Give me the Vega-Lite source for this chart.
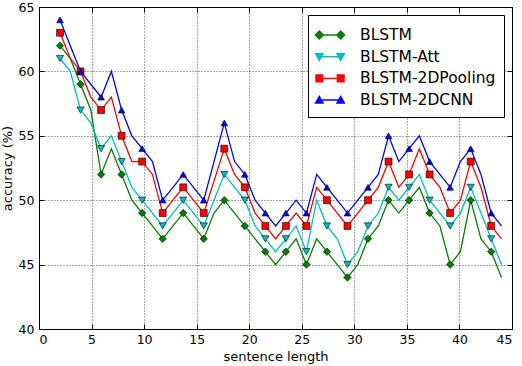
{
  "$schema": "https://vega.github.io/schema/vega-lite/v6.json",
  "width": 473,
  "height": 322,
  "autosize": {"type": "none"},
  "padding": {"left": 39, "top": 7, "right": 10, "bottom": 37},
  "background": "white",
  "config": {
    "font": "DejaVu Sans",
    "view": {"stroke": "black", "strokeWidth": 1},
    "axis": {
      "domain": false,
      "tickColor": "black",
      "tickSize": -5,
      "tickWidth": 1,
      "labelColor": "black",
      "labelFontSize": 12.5,
      "titleColor": "black",
      "titleFontSize": 13,
      "titleFontWeight": "normal",
      "gridColor": "black",
      "gridOpacity": 1,
      "gridWidth": 0.7,
      "gridDash": [1, 2]
    }
  },
  "data": {
    "values": [
      {"i": 0, "len": 2, "BLSTM": 62, "BLSTM-Att": 61, "BLSTM-2DPooling": 63, "BLSTM-2DCNN": 64},
      {"i": 1, "len": 2.977, "BLSTM": 61, "BLSTM-Att": 60, "BLSTM-2DPooling": 61, "BLSTM-2DCNN": 62},
      {"i": 2, "len": 3.953, "BLSTM": 59, "BLSTM-Att": 57, "BLSTM-2DPooling": 60, "BLSTM-2DCNN": 60},
      {"i": 3, "len": 4.93, "BLSTM": 57, "BLSTM-Att": 56, "BLSTM-2DPooling": 58, "BLSTM-2DCNN": 59},
      {"i": 4, "len": 5.907, "BLSTM": 52, "BLSTM-Att": 54, "BLSTM-2DPooling": 57, "BLSTM-2DCNN": 58},
      {"i": 5, "len": 6.884, "BLSTM": 54, "BLSTM-Att": 55, "BLSTM-2DPooling": 58, "BLSTM-2DCNN": 60},
      {"i": 6, "len": 7.86, "BLSTM": 52, "BLSTM-Att": 53, "BLSTM-2DPooling": 55, "BLSTM-2DCNN": 57},
      {"i": 7, "len": 8.837, "BLSTM": 50, "BLSTM-Att": 51, "BLSTM-2DPooling": 53, "BLSTM-2DCNN": 55},
      {"i": 8, "len": 9.814, "BLSTM": 49, "BLSTM-Att": 50, "BLSTM-2DPooling": 53, "BLSTM-2DCNN": 54},
      {"i": 9, "len": 10.791, "BLSTM": 48, "BLSTM-Att": 49, "BLSTM-2DPooling": 52, "BLSTM-2DCNN": 53},
      {"i": 10, "len": 11.767, "BLSTM": 47, "BLSTM-Att": 48, "BLSTM-2DPooling": 49, "BLSTM-2DCNN": 50},
      {"i": 11, "len": 12.744, "BLSTM": 48, "BLSTM-Att": 49, "BLSTM-2DPooling": 50, "BLSTM-2DCNN": 51},
      {"i": 12, "len": 13.721, "BLSTM": 49, "BLSTM-Att": 50, "BLSTM-2DPooling": 51, "BLSTM-2DCNN": 52},
      {"i": 13, "len": 14.698, "BLSTM": 48, "BLSTM-Att": 49, "BLSTM-2DPooling": 50, "BLSTM-2DCNN": 51},
      {"i": 14, "len": 15.674, "BLSTM": 47, "BLSTM-Att": 48, "BLSTM-2DPooling": 49, "BLSTM-2DCNN": 50},
      {"i": 15, "len": 16.651, "BLSTM": 49, "BLSTM-Att": 50, "BLSTM-2DPooling": 51.5, "BLSTM-2DCNN": 53},
      {"i": 16, "len": 17.628, "BLSTM": 50, "BLSTM-Att": 52, "BLSTM-2DPooling": 54, "BLSTM-2DCNN": 56},
      {"i": 17, "len": 18.605, "BLSTM": 49, "BLSTM-Att": 51, "BLSTM-2DPooling": 52, "BLSTM-2DCNN": 53},
      {"i": 18, "len": 19.581, "BLSTM": 48, "BLSTM-Att": 50, "BLSTM-2DPooling": 51, "BLSTM-2DCNN": 52},
      {"i": 19, "len": 20.558, "BLSTM": 47, "BLSTM-Att": 48, "BLSTM-2DPooling": 49, "BLSTM-2DCNN": 50},
      {"i": 20, "len": 21.535, "BLSTM": 46, "BLSTM-Att": 47, "BLSTM-2DPooling": 48, "BLSTM-2DCNN": 49},
      {"i": 21, "len": 22.512, "BLSTM": 45, "BLSTM-Att": 46, "BLSTM-2DPooling": 47, "BLSTM-2DCNN": 48},
      {"i": 22, "len": 23.488, "BLSTM": 46, "BLSTM-Att": 47, "BLSTM-2DPooling": 48, "BLSTM-2DCNN": 49},
      {"i": 23, "len": 24.465, "BLSTM": 47, "BLSTM-Att": 48, "BLSTM-2DPooling": 49, "BLSTM-2DCNN": 50},
      {"i": 24, "len": 25.442, "BLSTM": 45, "BLSTM-Att": 46, "BLSTM-2DPooling": 48, "BLSTM-2DCNN": 49},
      {"i": 25, "len": 26.419, "BLSTM": 47, "BLSTM-Att": 50, "BLSTM-2DPooling": 51, "BLSTM-2DCNN": 52},
      {"i": 26, "len": 27.395, "BLSTM": 46, "BLSTM-Att": 48, "BLSTM-2DPooling": 50, "BLSTM-2DCNN": 51},
      {"i": 27, "len": 28.372, "BLSTM": 45, "BLSTM-Att": 47, "BLSTM-2DPooling": 49, "BLSTM-2DCNN": 50},
      {"i": 28, "len": 29.349, "BLSTM": 44, "BLSTM-Att": 45, "BLSTM-2DPooling": 48, "BLSTM-2DCNN": 49},
      {"i": 29, "len": 30.326, "BLSTM": 45, "BLSTM-Att": 46, "BLSTM-2DPooling": 49, "BLSTM-2DCNN": 50},
      {"i": 30, "len": 31.302, "BLSTM": 47, "BLSTM-Att": 48, "BLSTM-2DPooling": 50, "BLSTM-2DCNN": 51},
      {"i": 31, "len": 32.279, "BLSTM": 48, "BLSTM-Att": 49, "BLSTM-2DPooling": 51, "BLSTM-2DCNN": 52},
      {"i": 32, "len": 33.256, "BLSTM": 50, "BLSTM-Att": 51, "BLSTM-2DPooling": 53, "BLSTM-2DCNN": 55},
      {"i": 33, "len": 34.233, "BLSTM": 49, "BLSTM-Att": 50, "BLSTM-2DPooling": 51, "BLSTM-2DCNN": 53},
      {"i": 34, "len": 35.209, "BLSTM": 50, "BLSTM-Att": 51, "BLSTM-2DPooling": 52, "BLSTM-2DCNN": 54},
      {"i": 35, "len": 36.186, "BLSTM": 51, "BLSTM-Att": 52, "BLSTM-2DPooling": 54, "BLSTM-2DCNN": 55},
      {"i": 36, "len": 37.163, "BLSTM": 49, "BLSTM-Att": 50, "BLSTM-2DPooling": 52, "BLSTM-2DCNN": 53},
      {"i": 37, "len": 38.14, "BLSTM": 48, "BLSTM-Att": 49, "BLSTM-2DPooling": 51, "BLSTM-2DCNN": 52},
      {"i": 38, "len": 39.116, "BLSTM": 45, "BLSTM-Att": 48, "BLSTM-2DPooling": 49, "BLSTM-2DCNN": 51},
      {"i": 39, "len": 40.093, "BLSTM": 46, "BLSTM-Att": 49, "BLSTM-2DPooling": 50, "BLSTM-2DCNN": 53},
      {"i": 40, "len": 41.07, "BLSTM": 50, "BLSTM-Att": 51, "BLSTM-2DPooling": 53, "BLSTM-2DCNN": 54},
      {"i": 41, "len": 42.047, "BLSTM": 47, "BLSTM-Att": 49, "BLSTM-2DPooling": 51, "BLSTM-2DCNN": 52},
      {"i": 42, "len": 43.023, "BLSTM": 46, "BLSTM-Att": 47, "BLSTM-2DPooling": 48, "BLSTM-2DCNN": 49},
      {"i": 43, "len": 44, "BLSTM": 44, "BLSTM-Att": 45, "BLSTM-2DPooling": 47, "BLSTM-2DCNN": 48}
    ]
  },
  "transform": [
    {"fold": ["BLSTM", "BLSTM-Att", "BLSTM-2DPooling", "BLSTM-2DCNN"], "as": ["model", "acc"]}
  ],
  "layer": [
    {
      "mark": {"type": "line", "strokeWidth": 1.3},
      "encoding": {
        "x": {
          "field": "len", "type": "quantitative",
          "scale": {"domain": [0, 45], "nice": false, "zero": false},
          "axis": {"orient": "bottom", "values": [0, 5, 10, 15, 20, 25, 30, 35, 40, 45], "grid": true, "labelPadding": 9, "title": "sentence length", "titlePadding": 5}
        },
        "y": {
          "field": "acc", "type": "quantitative",
          "scale": {"domain": [40, 65], "nice": false, "zero": false},
          "axis": {"orient": "left", "values": [40, 45, 50, 55, 60, 65], "grid": true, "labelPadding": 10, "title": "accuracy (%)", "titlePadding": 4}
        },
        "color": {
          "field": "model", "type": "nominal",
          "scale": {"domain": ["BLSTM", "BLSTM-Att", "BLSTM-2DPooling", "BLSTM-2DCNN"], "range": ["#008000", "#00bfbf", "#ff0000", "#0000ff"]},
          "legend": {
            "title": null,
            "orient": "top-right",
            "offset": 8,
            "padding": 8,
            "symbolSize": 484,
            "symbolOffset": 2,
            "labelOffset": 18,
            "labelFontSize": 15.5,
            "labelColor": "black",
            "rowPadding": 0.7,
            "strokeColor": "black",
            "fillColor": "white",
            "cornerRadius": 0,
            "encode": {
              "symbols": {
                "update": {
                  "shape": {"signal": "datum.value === 'BLSTM' ? 'M-0.97,0L0.97,0M-1.33,0L-0.97,-0.36L-0.61,0L-0.97,0.36ZM0.61,0L0.97,-0.36L1.33,0L0.97,0.36Z' : datum.value === 'BLSTM-Att' ? 'M-0.97,0L0.97,0M-1.3,-0.27L-0.64,-0.27L-0.97,0.33ZM0.64,-0.27L1.3,-0.27L0.97,0.33Z' : datum.value === 'BLSTM-2DPooling' ? 'M-0.97,0L0.97,0M-1.27,-0.3L-0.67,-0.3L-0.67,0.3L-1.27,0.3ZM0.67,-0.3L1.27,-0.3L1.27,0.3L0.67,0.3Z' : 'M-0.97,0L0.97,0M-1.3,0.27L-0.64,0.27L-0.97,-0.33ZM0.64,0.27L1.3,0.27L0.97,-0.33Z'"},
                  "fill": {"scale": "color", "field": "value"},
                  "stroke": {"scale": "color", "field": "value"},
                  "strokeWidth": {"value": 1.5},
                  "opacity": {"value": 1},
                  "fillOpacity": {"value": 1}
                }
              }
            }
          }
        }
      }
    },
    {
      "transform": [{"filter": "datum.i % 2 === 0"}],
      "mark": {"type": "point", "filled": true, "opacity": 1, "stroke": "black", "strokeWidth": 0.6},
      "encoding": {
        "x": {
          "field": "len", "type": "quantitative",
          "axis": {"orient": "top", "values": [0, 5, 10, 15, 20, 25, 30, 35, 40, 45], "grid": false, "labels": false, "title": null}
        },
        "y": {
          "field": "acc", "type": "quantitative",
          "axis": {"orient": "right", "values": [40, 45, 50, 55, 60, 65], "grid": false, "labels": false, "title": null}
        },
        "color": {"field": "model", "type": "nominal", "legend": null},
        "shape": {
          "field": "model", "type": "nominal",
          "scale": {"domain": ["BLSTM", "BLSTM-Att", "BLSTM-2DPooling", "BLSTM-2DCNN"], "range": ["diamond", "triangle-down", "square", "triangle-up"]},
          "legend": null
        },
        "size": {
          "field": "model", "type": "nominal",
          "scale": {"domain": ["BLSTM", "BLSTM-Att", "BLSTM-2DPooling", "BLSTM-2DCNN"], "range": [55, 45, 36, 45]},
          "legend": null
        }
      }
    }
  ],
  "resolve": {
    "axis": {"x": "independent", "y": "independent"},
    "legend": {"color": "independent", "shape": "independent", "size": "independent"}
  }
}
